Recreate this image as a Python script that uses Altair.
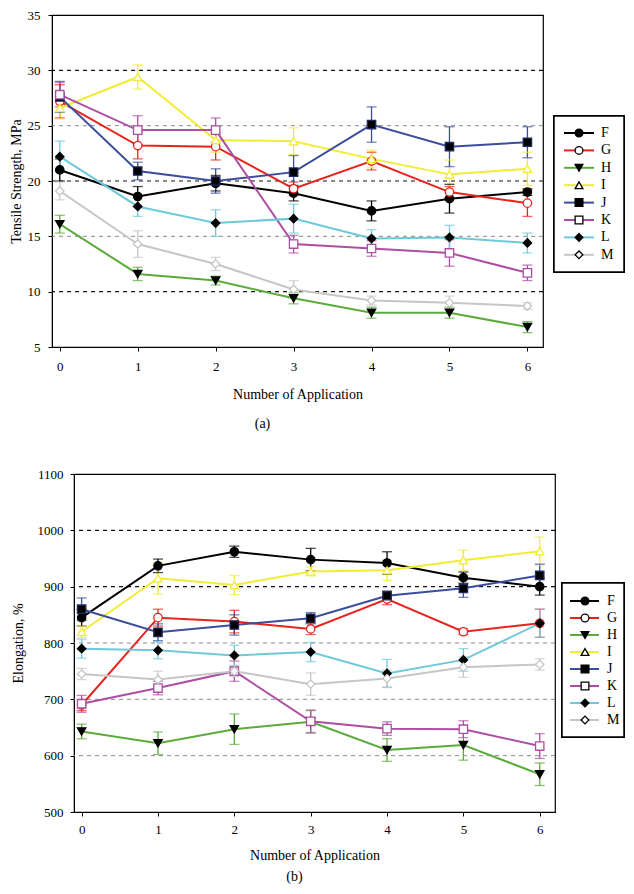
import altair as alt
import pandas as pd

FONT = "Liberation Serif"

apps = [0, 1, 2, 3, 4, 5, 6]
series = ["F", "G", "H", "I", "J", "K", "L", "M"]
line_colors = ["#000000", "#e8231e", "#5bab3c", "#f2ec35", "#3b4d9c", "#ad4ea3", "#6ec9da", "#c6c6c6"]
marker_shapes = ["circle", "circle", "triangle-down", "triangle-up", "square", "square", "diamond", "diamond"]
marker_fills = ["#000000", "#ffffff", "#000000", "#ffffff", "#000000", "#ffffff", "#000000", "#ffffff"]
marker_strokes = ["#000000", "#e8231e", "#000000", "#f2ec35", "#1f2a5c", "#ad4ea3", "#000000", "#c6c6c6"]

# (a) Tensile strength, MPa
ts_F = [21.0, 18.6, 19.8, 18.9, 17.3, 18.4, 19.0]
ts_G = [27.2, 23.2, 23.1, 19.3, 21.8, 19.0, 18.0]
ts_H = [16.1, 11.6, 11.0, 9.4, 8.1, 8.1, 6.8]
ts_I = [26.6, 29.4, 23.7, 23.6, 22.0, 20.6, 21.1]
ts_J = [27.6, 20.9, 20.0, 20.8, 25.1, 23.1, 23.5]
ts_K = [27.8, 24.6, 24.6, 14.3, 13.9, 13.5, 11.7]
ts_L = [22.2, 17.7, 16.2, 16.6, 14.8, 14.9, 14.4]
ts_M = [19.1, 14.3, 12.5, 10.2, 9.2, 9.0, 8.7]
ts_F_err = [1.0, 0.9, 0.7, 0.7, 0.9, 1.3, 0.3]
ts_G_err = [1.5, 1.2, 1.2, 0.6, 0.8, 0.5, 1.2]
ts_H_err = [0.8, 0.6, 0.4, 0.5, 0.5, 0.5, 0.5]
ts_I_err = [1.0, 1.1, 1.1, 1.2, 0.8, 1.3, 1.5]
ts_J_err = [1.4, 0.8, 1.1, 1.5, 1.6, 1.8, 1.4]
ts_K_err = [1.1, 1.3, 1.1, 0.8, 0.7, 1.2, 0.7]
ts_L_err = [1.4, 0.9, 1.2, 1.3, 0.8, 1.1, 0.9]
ts_M_err = [0.8, 1.2, 0.6, 0.8, 0.4, 0.6, 0.3]

# (b) Elongation, %
el_F = [845, 937, 962, 948, 942, 916, 900]
el_G = [690, 845, 838, 825, 878, 820, 835]
el_H = [643, 622, 647, 660, 610, 619, 567]
el_I = [820, 915, 903, 927, 929, 947, 963]
el_J = [860, 819, 832, 844, 884, 897, 920]
el_K = [692, 720, 750, 661, 648, 647, 617]
el_L = [790, 787, 778, 784, 746, 770, 835]
el_M = [745, 735, 750, 727, 737, 757, 762]
el_F_err = [15, 12, 10, 20, 20, 10, 15]
el_G_err = [10, 15, 20, 10, 10, 5, 25]
el_H_err = [13, 20, 27, 20, 20, 27, 20]
el_I_err = [10, 28, 17, 8, 18, 18, 25]
el_J_err = [20, 15, 18, 10, 8, 16, 20]
el_K_err = [15, 12, 18, 20, 12, 15, 22]
el_L_err = [17, 15, 18, 17, 25, 20, 25]
el_M_err = [10, 15, 10, 20, 15, 18, 10]

ts_major = [10, 20, 30]
ts_minor = [15, 25]
el_major = [900, 1000]
el_minor = [600, 700, 800]

ts_vals = [ts_F, ts_G, ts_H, ts_I, ts_J, ts_K, ts_L, ts_M]
ts_errs = [ts_F_err, ts_G_err, ts_H_err, ts_I_err, ts_J_err, ts_K_err, ts_L_err, ts_M_err]
el_vals = [el_F, el_G, el_H, el_I, el_J, el_K, el_L, el_M]
el_errs = [el_F_err, el_G_err, el_H_err, el_I_err, el_J_err, el_K_err, el_L_err, el_M_err]


def long_df(vals, errs):
    rows = []
    for s, v, e in zip(series, vals, errs):
        for a, vv, ee in zip(apps, v, e):
            rows.append({"series": s, "app": a, "value": vv, "lo": vv - ee, "hi": vv + ee})
    return pd.DataFrame(rows)


color_scale = alt.Scale(domain=series, range=line_colors)
shape_scale = alt.Scale(domain=series, range=marker_shapes)
fill_scale = alt.Scale(domain=series, range=marker_fills)
stroke_scale = alt.Scale(domain=series, range=marker_strokes)


def panel(df, ydom, yticks, major, minor, ytitle, w, h, sub, sub_dx, label_pad, title_pad,
          xlabel_pad, xtitle_pad, sub_offset):
    xs = alt.Scale(domain=[-0.1, 6.2], nice=False, zero=False)
    ys = alt.Scale(domain=ydom, nice=False, zero=False)
    xax = alt.Axis(values=apps, format="d", title="Number of Application", grid=False,
                   tickSize=4, labelPadding=xlabel_pad, titlePadding=xtitle_pad, domainColor="black",
                   tickColor="black")
    yax = alt.Axis(values=yticks, format="d", title=ytitle, grid=False, tickSize=4,
                   labelPadding=label_pad, titlePadding=title_pad, domainColor="black",
                   tickColor="black")
    X = alt.X("app:Q", scale=xs, axis=xax)
    maj = alt.Chart(pd.DataFrame({"v": major})).mark_rule(
        color="#111111", strokeDash=[4, 4], strokeWidth=1.1).encode(y=alt.Y("v:Q", scale=ys, axis=yax))
    mino = alt.Chart(pd.DataFrame({"v": minor})).mark_rule(
        color="#8a8a8a", strokeDash=[4, 4], strokeWidth=1).encode(y=alt.Y("v:Q", scale=ys, axis=yax))
    base = alt.Chart(df)
    col = alt.Color("series:N", scale=color_scale, legend=None)
    err = base.mark_rule(strokeWidth=1.3).encode(x=X, y=alt.Y("lo:Q", scale=ys, axis=yax), y2="hi:Q", color=col)
    cap_lo = base.mark_tick(orient="horizontal", size=10, thickness=1.3).encode(
        x=X, y=alt.Y("lo:Q", scale=ys, axis=yax), color=col)
    cap_hi = base.mark_tick(orient="horizontal", size=10, thickness=1.3).encode(
        x=X, y=alt.Y("hi:Q", scale=ys, axis=yax), color=col)
    lines = base.mark_line(strokeWidth=2).encode(
        x=X, y=alt.Y("value:Q", scale=ys, axis=yax), color=col, detail="series:N")
    pts = base.mark_point(size=70, opacity=1, strokeWidth=1.3, filled=False).encode(
        x=X, y=alt.Y("value:Q", scale=ys, axis=yax),
        shape=alt.Shape("series:N", scale=shape_scale, legend=None),
        fill=alt.Fill("series:N", scale=fill_scale, legend=None),
        stroke=alt.Stroke("series:N", scale=stroke_scale, legend=None))
    return alt.layer(mino, maj, err, cap_lo, cap_hi, lines, pts).properties(
        width=w, height=h,
        title=alt.TitleParams(sub, orient="bottom", font=FONT, fontSize=14, fontWeight="normal",
                              dx=sub_dx, offset=sub_offset, color="black"))


def legend_panel(h, lo, hi, box_lo, box_hi, x_box, x_line, x_pt, x_txt, w):
    ldf = pd.DataFrame({"series": series, "i": list(range(len(series)))})
    ys = alt.Scale(domain=[lo, hi], reverse=True, nice=False, zero=False)
    Y = alt.Y("i:Q", scale=ys, axis=None)
    box = alt.Chart(ldf).mark_rect(fill="white", stroke="black", strokeWidth=1.5).encode(
        x=alt.value(x_box[0]), x2=alt.value(x_box[1]), y=alt.datum(box_lo, scale=ys, axis=None), y2=alt.datum(box_hi))
    seg = alt.Chart(ldf).mark_rule(strokeWidth=2).encode(
        x=alt.value(x_line[0]), x2=alt.value(x_line[1]), y=Y,
        color=alt.Color("series:N", scale=color_scale, legend=None))
    pt = alt.Chart(ldf).mark_point(size=60, opacity=1, strokeWidth=1.3, filled=False).encode(
        x=alt.value(x_pt), y=Y,
        shape=alt.Shape("series:N", scale=shape_scale, legend=None),
        fill=alt.Fill("series:N", scale=fill_scale, legend=None),
        stroke=alt.value("black"))
    txt = alt.Chart(ldf).mark_text(align="left", baseline="middle", font=FONT, fontSize=14).encode(
        x=alt.value(x_txt), y=Y, text="series:N")
    return alt.layer(box, seg, pt, txt).properties(
        width=w, height=h, view=alt.ViewBackground(strokeOpacity=0))


spacer = alt.Chart(pd.DataFrame({"a": [0]})).mark_point(opacity=0).encode(
    x=alt.value(0), y=alt.value(0)).properties(width=22, height=338, view=alt.ViewBackground(strokeOpacity=0))

top = alt.hconcat(
    panel(long_df(ts_vals, ts_errs), [5, 35], [5, 10, 15, 20, 25, 30, 35], ts_major, ts_minor,
          "Tensile Strength, MPa", 491, 332, "(a)", -35, 8, 4, 9, 14, 16),
    legend_panel(332, -118 / 17.4, -118 / 17.4 + 332 / 17.4, -0.98, 7.99,
                 (9, 79), (19, 49), 34, 56, 80),
    spacing=0,
)
bottom = alt.hconcat(
    spacer,
    panel(long_df(el_vals, el_errs), [500, 1100], [500, 600, 700, 800, 900, 1000, 1100], el_major, el_minor,
          "Elongation, %", 481, 338, "(b)", -20, 7, 12, 7, 12, 8),
    legend_panel(338, -127 / 17.0, -127 / 17.0 + 338 / 17.0, -1.06, 8.0,
                 (7, 69), (15, 44), 30, 52, 70),
    spacing=0, bounds="flush",
)

chart = alt.vconcat(top, bottom, spacing=35).properties(
    padding=0, background="white"
).configure_view(
    stroke="black", strokeWidth=1.2
).configure_axis(
    labelFont=FONT, titleFont=FONT, labelFontSize=13, titleFontSize=14, titleFontWeight="normal",
    labelColor="black", titleColor="black"
)

chart.save("out.html", embed_options={"renderer": "svg", "actions": False})
